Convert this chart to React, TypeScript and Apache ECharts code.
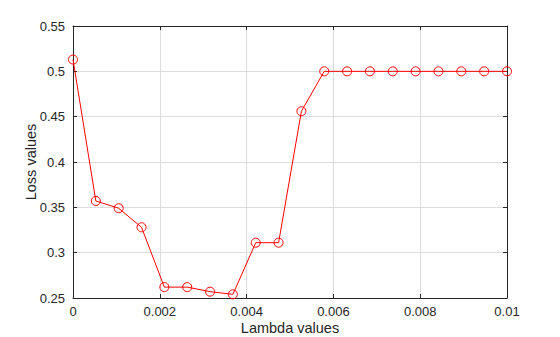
import React, { useEffect, useRef } from "react";
import * as echarts from "echarts";

const lambdaValues = [
  0, 0.000526, 0.001053, 0.001579, 0.002105, 0.002632, 0.003158, 0.003684, 0.004211, 0.004737,
  0.005263, 0.005789, 0.006316, 0.006842, 0.007368, 0.007895, 0.008421, 0.008947, 0.009474, 0.01,
];
const lossValues = [
  0.513, 0.357, 0.349, 0.328, 0.262, 0.262, 0.257, 0.254, 0.311, 0.311,
  0.456, 0.5, 0.5, 0.5, 0.5, 0.5, 0.5, 0.5, 0.5, 0.5,
];
const xTickLabels: Record<string, string> = {
  "0": "0", "0.002": "0.002", "0.004": "0.004", "0.006": "0.006", "0.008": "0.008", "0.01": "0.01",
};
const yTickLabels: Record<string, string> = {
  "0.25": "0.25", "0.3": "0.3", "0.35": "0.35", "0.4": "0.4", "0.45": "0.45", "0.5": "0.5", "0.55": "0.55",
};

const FONT = "Liberation Sans, Arial, Helvetica, sans-serif";
const TXT = "#262626";

export default function App() {
  const ref = useRef<HTMLDivElement>(null);
  useEffect(() => {
    if (!ref.current) return;
    const chart = echarts.init(ref.current, undefined, { renderer: "svg" });
    const fmtX = (v: number) => xTickLabels[String(+v.toFixed(4))] ?? String(+v.toFixed(4));
    const fmtY = (v: number) => yTickLabels[String(+v.toFixed(2))] ?? String(+v.toFixed(2));
    const lineStyle = { color: TXT, width: 1 };
    chart.setOption({
      animation: false,
      backgroundColor: "#ffffff",
      grid: { left: 73, right: 53, top: 26, bottom: 39, show: false, containLabel: false, outerBoundsMode: "none" },
      xAxis: [
        {
          type: "value", min: 0, max: 0.01, interval: 0.002,
          name: "Lambda values", nameLocation: "middle", nameGap: 22, nameMoveOverlap: false,
          nameTextStyle: { color: TXT, fontFamily: FONT, fontSize: 14.5 },
          axisLine: { show: true, onZero: false, lineStyle },
          axisTick: { show: true, inside: true, length: 4, lineStyle },
          axisLabel: { color: TXT, fontFamily: FONT, fontSize: 13, margin: 7, formatter: fmtX },
          splitLine: { show: true, lineStyle: { color: "#dcdcdc", width: 1 } },
        },
        {
          type: "value", min: 0, max: 0.01, interval: 0.002, position: "top",
          axisLine: { show: true, onZero: false, lineStyle },
          axisTick: { show: true, inside: true, length: 4, lineStyle },
          axisLabel: { show: false },
          splitLine: { show: false },
        },
      ],
      yAxis: [
        {
          type: "value", min: 0.25, max: 0.55, interval: 0.05,
          name: "Loss values", nameLocation: "middle", nameGap: 35, nameMoveOverlap: false,
          nameTextStyle: { color: TXT, fontFamily: FONT, fontSize: 14.5 },
          axisLine: { show: true, onZero: false, lineStyle },
          axisTick: { show: true, inside: true, length: 4, lineStyle },
          axisLabel: { color: TXT, fontFamily: FONT, fontSize: 13, margin: 8, formatter: fmtY },
          splitLine: { show: true, lineStyle: { color: "#dcdcdc", width: 1 } },
        },
        {
          type: "value", min: 0.25, max: 0.55, interval: 0.05, position: "right",
          axisLine: { show: true, onZero: false, lineStyle },
          axisTick: { show: true, inside: true, length: 4, lineStyle },
          axisLabel: { show: false },
          splitLine: { show: false },
        },
      ],
      series: [
        {
          type: "line",
          data: lambdaValues.map((x, i) => [x, lossValues[i]]),
          xAxisIndex: 0, yAxisIndex: 0,
          symbol: "circle", symbolSize: 9, showAllSymbol: true,
          lineStyle: { color: "#ff0000", width: 1 },
          itemStyle: { color: "rgba(255,255,255,0)", borderColor: "#ff0000", borderWidth: 1 },
          clip: false,
        },
      ],
    });
    return () => chart.dispose();
  }, []);
  return <div ref={ref} style={{ position: "absolute", left: 0, top: 0, width: 560, height: 337 }} />;
}
